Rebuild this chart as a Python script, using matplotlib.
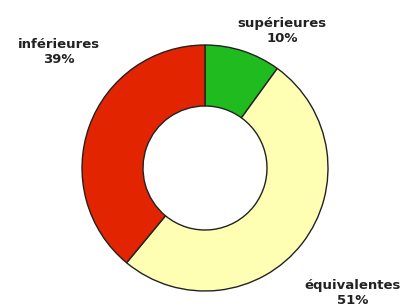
import matplotlib.pyplot as plt

# Donut data (clockwise from the top)
categories = ['supérieures', 'équivalentes', 'inférieures']
shares = [10, 51, 39]
colors = ['#1fbb1f', '#ffffb3', '#e22400']

# label positions in pixel coordinates (x, y from bottom)
label_pos = [(282, 274), (353, 12), (59, 253)]

fig = plt.figure(figsize=(4.2, 3.05), dpi=100)
ax = fig.add_axes([0, 0, 1, 1])

ax.pie(shares, colors=colors, startangle=90, counterclock=False,
       center=(205, 137), radius=123,
       wedgeprops=dict(width=61, edgecolor='#222222', linewidth=1.0))
ax.set_xlim(0, 420)
ax.set_ylim(0, 305)
ax.set_aspect('equal')
ax.axis('off')

for cat, val, (x, y) in zip(categories, shares, label_pos):
    ax.text(x, y, f'{cat}\n{val}%', ha='center', va='center',
            fontsize=9.5, fontweight='bold', color='#222222', linespacing=1.25)

fig.savefig('out.png', dpi=100)
